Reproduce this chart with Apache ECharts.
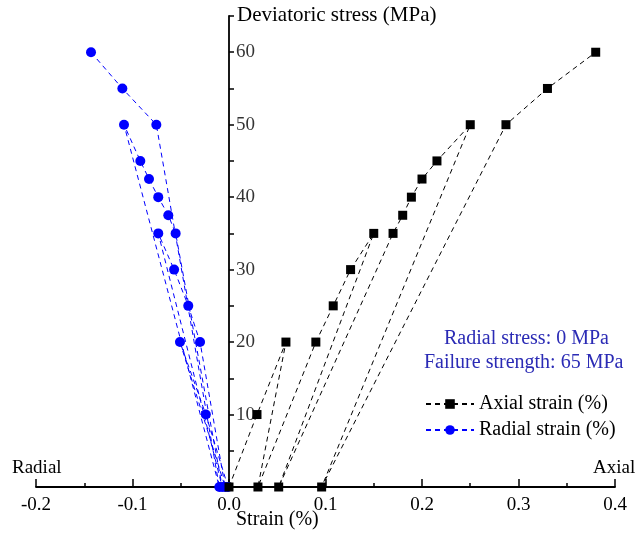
<!DOCTYPE html>
<html>
<head>
<meta charset="utf-8">
<script src="https://cdn.jsdelivr.net/npm/echarts@6/dist/echarts.min.js"></script>
<style>
html,body{margin:0;padding:0;background:#fff;}
#chart{width:638px;height:533px;}
</style>
</head>
<body>
<div id="chart"></div>
<script>
// Axial strain (%) vs deviatoric stress (MPa), in loading/unloading order
var axialStrain = [0.000, 0.029, 0.059, 0.030, 0.090, 0.108, 0.126, 0.150, 0.0515, 0.170, 0.180, 0.189, 0.200, 0.2155, 0.250, 0.096, 0.287, 0.330, 0.380];
var axialStress = [0, 10, 20, 0, 20, 25, 30, 35, 0, 35, 37.5, 40, 42.5, 45, 50, 0, 50, 55, 60];
// Radial strain (%) vs deviatoric stress (MPa)
var radialStrain = [-0.001, -0.024, -0.0508, -0.004, -0.030, -0.0422, -0.0569, -0.0733, -0.007, -0.0553, -0.0629, -0.0733, -0.0829, -0.0919, -0.1088, -0.010, -0.0753, -0.1105, -0.143];
var radialStress = [0, 10, 20, 0, 20, 25, 30, 35, 0, 35, 37.5, 40, 42.5, 45, 50, 0, 50, 55, 60];

var xTicks = [-0.2, -0.1, 0.0, 0.1, 0.2, 0.3, 0.4];
var yTicks = [10, 20, 30, 40, 50, 60];

function pairs(xs, ys) { return xs.map(function (v, i) { return [v, ys[i]]; }); }

var serif = '"Liberation Serif", "Times New Roman", serif';
var chart = echarts.init(document.getElementById('chart'));
chart.setOption({
  animation: false,
  backgroundColor: '#fff',
  grid: { left: 36, right: 23, top: 16, bottom: 46 },
  xAxis: {
    type: 'value', min: -0.2, max: 0.4, interval: 0.1,
    axisLine: { onZero: true, lineStyle: { color: '#000', width: 1.8 } },
    axisTick: { inside: true, length: 8, lineStyle: { color: '#000', width: 1.5 } },
    minorTick: { show: true, splitNumber: 2, length: 4, lineStyle: { color: '#000', width: 1.5 } },
    splitLine: { show: false },
    axisLabel: {
      color: '#000', fontFamily: serif, fontSize: 19, margin: 9,
      formatter: function (v) {
        for (var i = 0; i < xTicks.length; i++) if (Math.abs(xTicks[i] - v) < 1e-9) return xTicks[i].toFixed(1);
        return '';
      }
    }
  },
  yAxis: {
    type: 'value', min: 0, max: 65, interval: 5, position: 'right',
    axisLine: { onZero: true, lineStyle: { color: '#000', width: 1.8 } },
    axisTick: { inside: false, length: 5, lineStyle: { color: '#000', width: 1.5 } },
    splitLine: { show: false },
    axisLabel: { show: false }
  },
  legend: {
    orient: 'vertical', left: 420, top: 389, itemWidth: 48, itemHeight: 12, itemGap: 6,
    textStyle: { fontFamily: serif, fontSize: 20, color: '#000' },
    data: ['Axial strain (%)', 'Radial strain (%)']
  },
  series: [
    {
      name: 'Axial strain (%)', type: 'line', data: pairs(axialStrain, axialStress),
      symbol: 'rect', symbolSize: 9,
      itemStyle: { color: '#000' },
      lineStyle: { color: '#000', width: 1, type: [5, 4] },
      z: 3
    },
    {
      name: 'Radial strain (%)', type: 'line', data: pairs(radialStrain, radialStress),
      symbol: 'circle', symbolSize: 10,
      itemStyle: { color: '#0000ff' },
      lineStyle: { color: '#0000ff', width: 1, type: [5, 4] },
      z: 2
    },
    {
      name: 'yTickLabels', type: 'scatter', silent: true, z: 1,
      data: yTicks.map(function (v) { return [0, v]; }),
      symbolSize: 0, itemStyle: { color: 'transparent' },
      label: {
        show: true, position: 'right', distance: 7, color: '#000',
        fontFamily: serif, fontSize: 19,
        formatter: function (p) { return String(p.value[1]); }
      }
    }
  ],
  graphic: [
    { type: 'text', style: { x: 237, y: 15, verticalAlign: 'middle', text: 'Deviatoric stress (MPa)', font: '21px ' + serif, fill: '#000' } },
    { type: 'text', style: { x: 12, y: 468, verticalAlign: 'middle', text: 'Radial', font: '19px ' + serif, fill: '#000' } },
    { type: 'text', style: { x: 593, y: 468, verticalAlign: 'middle', text: 'Axial', font: '19px ' + serif, fill: '#000' } },
    { type: 'text', style: { x: 236, y: 520, verticalAlign: 'middle', text: 'Strain (%)', font: '20px ' + serif, fill: '#000' } },
    { type: 'text', style: { x: 444, y: 339, verticalAlign: 'middle', text: 'Radial stress: 0 MPa', font: '20px ' + serif, fill: '#2b2bb5' } },
    { type: 'text', style: { x: 424, y: 363, verticalAlign: 'middle', text: 'Failure strength: 65 MPa', font: '20px ' + serif, fill: '#2b2bb5' } }
  ]
});
</script>
</body>
</html>
